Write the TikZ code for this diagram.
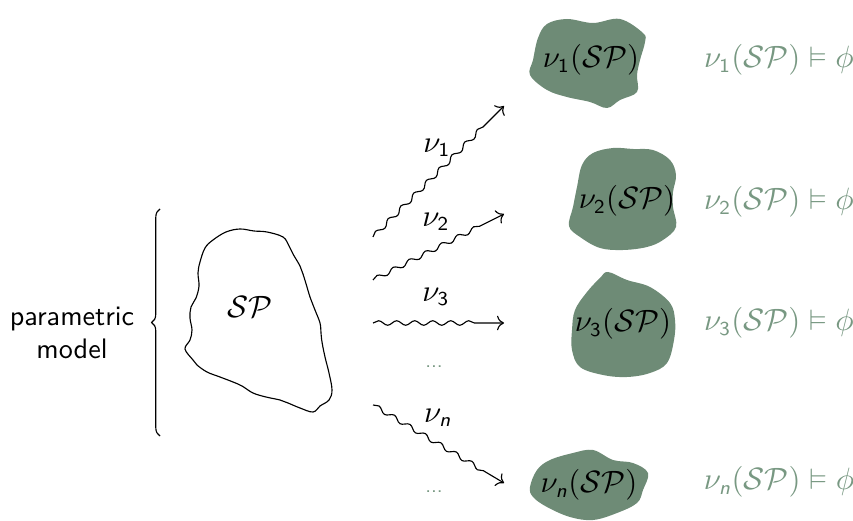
\documentclass[tikz,border=0pt]{standalone}
\usepackage{amssymb}
\usetikzlibrary{decorations.pathmorphing,decorations.pathreplacing,arrows.meta}
\DeclareMathAlphabet{\mathsfit}{OT1}{cmss}{m}{sl}
\definecolor{blobgreen}{RGB}{110,139,118}
\definecolor{satgreen}{RGB}{120,152,130}
\tikzset{
  blob/.style={fill=blobgreen,draw=none},
  outline/.style={draw=black,line width=0.4pt},
  wavy/.style={->,decorate,decoration={snake,amplitude=0.8pt,segment length=6.4pt,post length=8pt}},
  lbl/.style={inner sep=0pt,font=\fontsize{10.5}{12}\selectfont},
  sat/.style={lbl,text=satgreen},
  ellip/.style={text=satgreen,inner sep=0pt,font=\scriptsize\sffamily},
}
\newcommand{\spm}{\mathcal{SP}}
\begin{document}
\begin{tikzpicture}[x=0.355pt,y=-0.355pt]
\useasboundingbox (0,0) rectangle (853,521);

% left label and brace
\node[inner sep=0pt,align=center,font=\sffamily] (pm) at (72,333) {parametric\\model};
\coordinate (braceLo) at (160,436);
\coordinate (braceHi) at (160,209);
\draw[decorate,decoration={brace,amplitude=3pt}] (braceLo) -- (braceHi);

% source outline
\draw[outline] plot[smooth cycle,tension=0.6] coordinates {
  (200,262) (205,248) (213,240) (226,232) (240,229) (254,231) (267,232)
  (283,237) (289,246) (293,254) (300,266) (303,274) (307,287) (310,297)
  (315,310) (320,323) (321,333) (322,342) (325,357) (329,373) (332,390)
  (329,400) (320,406) (313,412) (300,408) (288,403) (280,400) (266,397)
  (253,393) (242,386) (233,382) (220,377) (207,372) (197,365) (193,360)
  (185,349) (190,340) (192,330) (190,318) (191,307) (196,298) (199,286)
  (198,273)};
\node[lbl] (sp) at (250,307) {$\spm$};

% target blobs
\fill[blob] plot[smooth cycle,tension=0.6] coordinates {
  (530,75) (533,60) (538,38) (547,24) (567,19) (593,23) (620,19)
  (643,33) (645,42) (640,60) (637,75) (637,92) (620,100) (607,108)
  (590,102) (567,97) (547,90)};
\fill[blob] plot[smooth cycle,tension=0.6] coordinates {
  (582,165) (593,153) (613,148) (633,149) (653,150) (670,160) (676,175)
  (673,192) (673,207) (676,227) (663,240) (647,247) (623,250) (600,248)
  (580,237) (569,226) (573,207) (577,187)};
\fill[blob] plot[smooth cycle,tension=0.6] coordinates {
  (587,292) (600,278) (608,272) (627,280) (650,287) (670,303) (675,320)
  (674,340) (667,363) (650,373) (627,377) (603,375) (580,367) (572,350)
  (572,330) (575,310)};
\fill[blob] plot[smooth cycle,tension=0.6] coordinates {
  (530,487) (537,470) (550,460) (573,453) (593,450) (613,460) (633,463)
  (648,473) (643,490) (637,503) (617,513) (593,520) (570,517) (547,507)
  (533,497)};

\node[lbl] (t1) at (591,60) {$\nu_{\mathsf{1}}(\spm)$};
\node[lbl] (t2) at (627,201) {$\nu_{\mathsf{2}}(\spm)$};
\node[lbl] (t3) at (623,324) {$\nu_{\mathsf{3}}(\spm)$};
\node[lbl] (tn) at (589,485) {$\nu_{\mathsfit{n}}(\spm)$};

% satisfaction checks
\node[sat] (s1) at (779,60) {$\nu_{\mathsf{1}}(\spm)\vDash\phi$};
\node[sat] (s2) at (779,202) {$\nu_{\mathsf{2}}(\spm)\vDash\phi$};
\node[sat] (s3) at (779,323) {$\nu_{\mathsf{3}}(\spm)\vDash\phi$};
\node[sat] (sn) at (779,482) {$\nu_{\mathsfit{n}}(\spm)\vDash\phi$};

% instantiation arrows
\coordinate (a1) at (373,237); \coordinate (b1) at (504,106);
\coordinate (a2) at (373,280); \coordinate (b2) at (504,214);
\coordinate (a3) at (373,323); \coordinate (b3) at (504,323);
\coordinate (an) at (373,405); \coordinate (bn) at (504,483);
\draw[wavy] (a1) -- (b1);
\draw[wavy] (a2) -- (b2);
\draw[wavy] (a3) -- (b3);
\draw[wavy] (an) -- (bn);
\node[lbl] (l1) at (437,148) {$\nu_{\mathsf{1}}$};
\node[lbl] (l2) at (436,222) {$\nu_{\mathsf{2}}$};
\node[lbl] (l3) at (436,297) {$\nu_{\mathsf{3}}$};
\node[lbl] (ln) at (438,418) {$\nu_{\mathsfit{n}}$};
\node[ellip] (d1) at (434,367) {...};
\node[ellip] (d2) at (434,492) {...};
\end{tikzpicture}
\end{document}
